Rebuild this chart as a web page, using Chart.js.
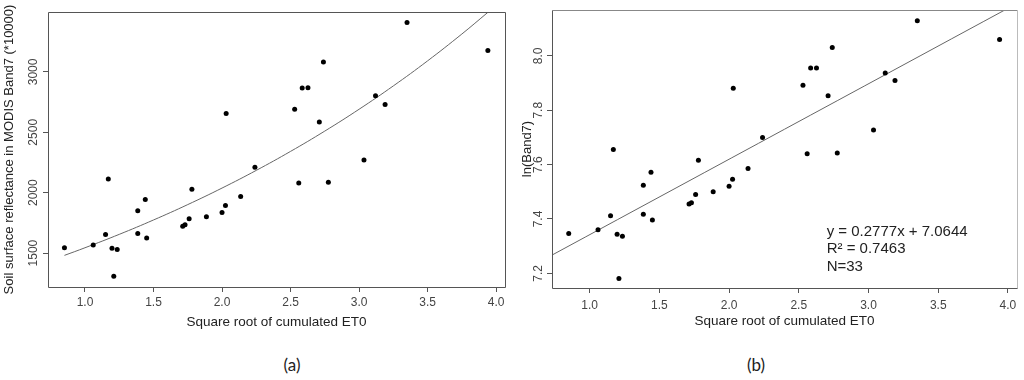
<!DOCTYPE html>
<html>
<head>
<meta charset="utf-8">
<script src="https://cdn.jsdelivr.net/npm/chart.js@4.4.1/dist/chart.umd.min.js"></script>
<style>
  body { margin: 0; background: #fff; }
  #wrap { position: relative; width: 1024px; height: 380px; overflow: hidden; background: #fff; }
  canvas { position: absolute; top: 0; }
  .cap { position: absolute; top: 354px; font: 17px Lato, sans-serif; color: #222; transform: translateX(-50%); }
</style>
</head>
<body>
<div id="wrap">
  <canvas id="left" width="515" height="330" style="left:0"></canvas>
  <canvas id="right" width="509" height="330" style="left:515px"></canvas>
  <div class="cap" style="left:292px">(a)</div>
  <div class="cap" style="left:756px">(b)</div>
</div>
<script>
// square root of cumulated ET0, one per site (N = 33)
const sqrtEt0 = [0.85, 1.06, 1.15, 1.17, 1.197, 1.21, 1.235, 1.385, 1.385, 1.44, 1.45,
  1.713, 1.73, 1.76, 1.78, 1.886, 2.0, 2.025, 2.03, 2.136, 2.24, 2.53,
  2.56, 2.585, 2.627, 2.71, 2.74, 2.776, 3.036, 3.12, 3.19, 3.35, 3.94];
// MODIS band 7 reflectance (*10000), same order
const band7 = [1544, 1566, 1654, 2114, 1539, 1307, 1530, 1850, 1663, 1944, 1624,
  1723, 1734, 1784, 2029, 1800, 1836, 1894, 2655, 1969, 2210, 2690,
  2081, 2866, 2869, 2585, 3083, 2087, 2271, 2802, 2731, 3409, 3178];
// ln(Band7)
const lnBand7 = [7.347, 7.36, 7.412, 7.656, 7.344, 7.181, 7.336, 7.524, 7.417, 7.572, 7.396,
  7.455, 7.46, 7.49, 7.616, 7.5, 7.52, 7.546, 7.881, 7.586, 7.7, 7.892,
  7.64, 7.956, 7.956, 7.853, 8.031, 7.643, 7.727, 7.937, 7.91, 8.129, 8.06];

// fit printed on panel (b): ln(y) = slope * x + intercept
const slope = 0.2777;
const intercept = 7.0644;
const fitNote = ['y = 0.2777x + 7.0644', 'R\u00b2 = 0.7463', 'N=33'];

const curveX = [0.85, 1.0, 1.25, 1.5, 1.75, 2.0, 2.25, 2.5, 2.75, 3.0, 3.25, 3.5, 3.75, 3.94];
const lineX = [0.73, 4.065];

const xTicks = [1.0, 1.5, 2.0, 2.5, 3.0, 3.5, 4.0];
const yTicksA = [1500, 2000, 2500, 3000];
const yTicksB = [7.2, 7.4, 7.6, 7.8, 8.0];

const FONT = '"Liberation Sans", Arial, sans-serif';
const AXIS = '#555';

// R-style frame, rotated y tick labels and the fit note
const rBase = {
  id: 'rBase',
  afterDraw(chart, args, o) {
    const { ctx, chartArea: a, scales: { y } } = chart;
    ctx.save();
    ctx.lineWidth = 1;
    const side = (c, x1, y1, x2, y2) => {
      ctx.strokeStyle = c;
      ctx.beginPath(); ctx.moveTo(x1, y1); ctx.lineTo(x2, y2); ctx.stroke();
    };
    const L = Math.round(a.left) + 0.5, R = Math.round(a.right) + 0.5;
    const T = Math.round(a.top) + 0.5, B = Math.round(a.bottom) + 0.5;
    side(o.top, L, T, R, T);
    side(o.right, R, T, R, B);
    side(AXIS, L, B, R, B);
    side(AXIS, L, T, L, B);

    ctx.font = '12px ' + FONT;
    ctx.fillStyle = '#444';
    ctx.textAlign = 'center';
    ctx.textBaseline = 'middle';
    y.ticks.forEach(t => {
      ctx.save();
      ctx.translate(a.left - o.gap, y.getPixelForValue(t.value));
      ctx.rotate(-Math.PI / 2);
      ctx.fillText(o.fmt(t.value), 0, 0);
      ctx.restore();
    });

    if (o.note) {
      const x = chart.scales.x.getPixelForValue(2.7);
      const y0 = y.getPixelForValue(7.353);
      ctx.font = '15px ' + FONT;
      ctx.fillStyle = '#222';
      ctx.textAlign = 'left';
      o.note.forEach((s, i) => ctx.fillText(s, x, y0 + i * 17.6));
    }
    ctx.restore();
  }
};

function panel(canvas, cfg) {
  return new Chart(canvas, {
    type: 'scatter',
    data: {
      datasets: [
        {
          data: sqrtEt0.map((x, i) => ({ x, y: cfg.values[i] })),
          backgroundColor: '#000',
          borderWidth: 0,
          pointRadius: 2.5,
          pointHoverRadius: 2.5,
        },
        {
          type: 'line',
          data: cfg.fit,
          borderColor: '#666',
          borderWidth: 1,
          pointRadius: 0,
          tension: 0.4,
          fill: false,
        },
      ],
    },
    options: {
      responsive: false,
      animation: false,
      events: [],
      layout: { padding: cfg.padding },
      plugins: {
        legend: { display: false },
        tooltip: { enabled: false },
        rBase: cfg.base,
      },
      scales: {
        x: {
          type: 'linear',
          min: 0.73,
          max: 4.065,
          afterBuildTicks: s => { s.ticks = xTicks.map(value => ({ value })); },
          afterFit: s => { s.height = cfg.xHeight; },
          ticks: {
            callback: v => v.toFixed(1),
            color: '#444',
            font: { family: FONT, size: 12 },
            padding: cfg.xPad,
            maxRotation: 0,
            autoSkip: false,
          },
          grid: { drawOnChartArea: false, drawTicks: true, tickLength: 5, color: AXIS },
          border: { display: false },
          title: {
            display: true,
            text: 'Square root of cumulated ET0',
            color: '#222',
            font: { family: FONT, size: 13.5 },
            padding: { top: 0, bottom: cfg.titlePad },
          },
        },
        y: {
          type: 'linear',
          min: cfg.yMin,
          max: cfg.yMax,
          afterBuildTicks: s => { s.ticks = cfg.yTicks.map(value => ({ value })); },
          afterFit: s => { s.width = cfg.yWidth; },
          ticks: { display: false },
          grid: { drawOnChartArea: false, drawTicks: true, tickLength: 5, color: AXIS },
          border: { display: false },
          title: {
            display: true,
            text: cfg.yTitle,
            color: '#222',
            font: { family: FONT, size: 13 },
            padding: { top: cfg.yTitlePad, bottom: 0 },
          },
        },
      },
    },
    plugins: [rBase],
  });
}

panel(document.getElementById('left'), {
  values: band7,
  fit: curveX.map(x => ({ x, y: Math.exp(intercept + slope * x) })),
  padding: { left: 0, top: 12, right: 10, bottom: 0 },
  xHeight: 43,
  xPad: 3,
  titlePad: 0,
  yMin: 1219,
  yMax: 3496,
  yTicks: yTicksA,
  yWidth: 48,
  yTitle: 'Soil surface reflectance in MODIS Band7 (*10000)',
  yTitlePad: 2,
  base: { top: AXIS, right: AXIS, gap: 14, fmt: v => String(v) },
});

panel(document.getElementById('right'), {
  values: lnBand7,
  fit: lineX.map(x => ({ x, y: intercept + slope * x })),
  padding: { left: 0, top: 10, right: 7, bottom: 0 },
  xHeight: 42,
  xPad: 5,
  titlePad: 1,
  yMin: 7.146,
  yMax: 8.169,
  yTicks: yTicksB,
  yWidth: 37,
  yTitle: 'ln(Band7)',
  yTitlePad: 5,
  base: { top: '#888', right: '#bbb', gap: 13, fmt: v => v.toFixed(1), note: fitNote },
});
</script>
</body>
</html>
